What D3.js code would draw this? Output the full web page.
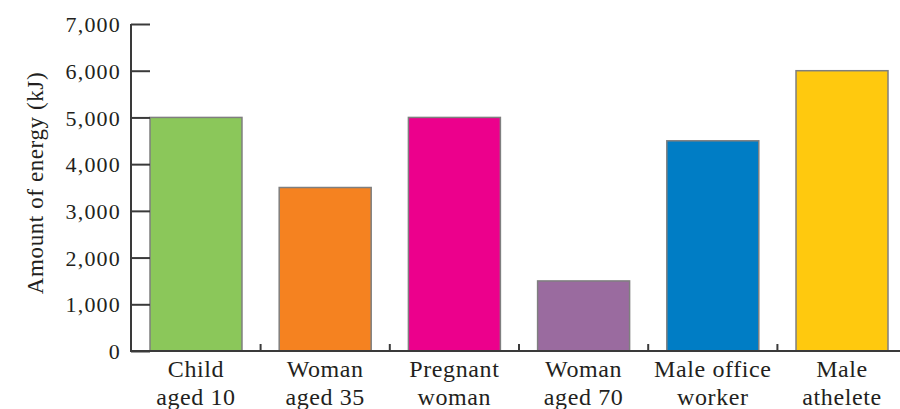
<!DOCTYPE html>
<html>
<head>
<meta charset="utf-8">
<script src="https://cdn.jsdelivr.net/npm/d3@7"></script>
<style>
  html, body { margin: 0; padding: 0; background: #fff; }
  svg { display: block; }
  text { font-family: "Liberation Serif", "Times New Roman", serif; fill: #231f20; }
</style>
</head>
<body>
<svg id="chart" width="900" height="409"></svg>
<script>
const categories = [
  ["Child", "aged 10"],
  ["Woman", "aged 35"],
  ["Pregnant", "woman"],
  ["Woman", "aged 70"],
  ["Male office", "worker"],
  ["Male", "athelete"]
];
const values = [5000, 3500, 5000, 1500, 4500, 6000];
const colors = ["#8bc75a", "#f58220", "#ec008c", "#9a6b9f", "#007dc5", "#ffc90e"];
const yTicks = [0, 1000, 2000, 3000, 4000, 5000, 6000, 7000];
const yTitle = "Amount of energy (kJ)";

const svg = d3.select("#chart");
const x0 = 131, yBase = 351, yTop = 24;

const x = d3.scaleBand()
  .domain(d3.range(categories.length))
  .range([x0, 907])
  .paddingInner(0.288)
  .paddingOuter(0.147);

const y = d3.scaleLinear().domain([0, 7000]).range([yBase, yTop]);

// bars
svg.append("g").selectAll("rect")
  .data(values)
  .join("rect")
  .attr("x", (d, i) => x(i))
  .attr("y", d => y(d))
  .attr("width", x.bandwidth())
  .attr("height", d => y(0) - y(d))
  .attr("fill", (d, i) => colors[i])
  .attr("stroke", "#7f7f7f")
  .attr("stroke-width", 1.5);

// y axis
const yAxis = d3.axisRight(y)
  .tickValues(yTicks)
  .tickSize(19)
  .tickFormat(d3.format(","));
const gy = svg.append("g").attr("transform", `translate(${x0},0)`).call(yAxis);
gy.select(".domain").remove();
gy.selectAll(".tick line").attr("stroke", "#3a3a3a").attr("stroke-width", 2);
gy.selectAll(".tick text")
  .attr("x", -10)
  .attr("text-anchor", "end")
  .attr("dy", "0.35em")
  .style("font-size", "22px")
  .style("letter-spacing", "1.2px")
  .style("font-family", "'Liberation Serif', serif")
  .attr("fill", "#231f20");
svg.append("line")
  .attr("x1", x0).attr("x2", x0)
  .attr("y1", y(7000)).attr("y2", yBase + 1)
  .attr("stroke", "#3a3a3a").attr("stroke-width", 2);

// x axis line
svg.append("line")
  .attr("x1", x0 - 1).attr("x2", 900)
  .attr("y1", yBase).attr("y2", yBase)
  .attr("stroke", "#3a3a3a").attr("stroke-width", 2);

// x ticks between categories
const gapTicks = d3.range(categories.length - 1).map(i => x(i) + x.bandwidth() + x.step() * x.paddingInner() / 2);
svg.append("g").selectAll("line")
  .data(gapTicks)
  .join("line")
  .attr("x1", d => d).attr("x2", d => d)
  .attr("y1", yBase).attr("y2", yBase - 7)
  .attr("stroke", "#3a3a3a").attr("stroke-width", 2);

// x labels
const lab = svg.append("g").selectAll("text")
  .data(categories)
  .join("text")
  .attr("x", (d, i) => x(i) + x.bandwidth() / 2)
  .attr("y", 377)
  .attr("text-anchor", "middle")
  .style("font-size", "24px")
  .style("letter-spacing", "0.6px");
lab.each(function(d) {
  const t = d3.select(this);
  d.forEach((line, j) => {
    t.append("tspan")
      .attr("x", t.attr("x"))
      .attr("dy", j === 0 ? 0 : 28)
      .text(line);
  });
});

// y title
svg.append("text")
  .attr("transform", `translate(43, 183) rotate(-90)`)
  .attr("text-anchor", "middle")
  .style("font-size", "23px")
  .style("letter-spacing", "0.6px")
  .text(yTitle);
</script>
</body>
</html>
